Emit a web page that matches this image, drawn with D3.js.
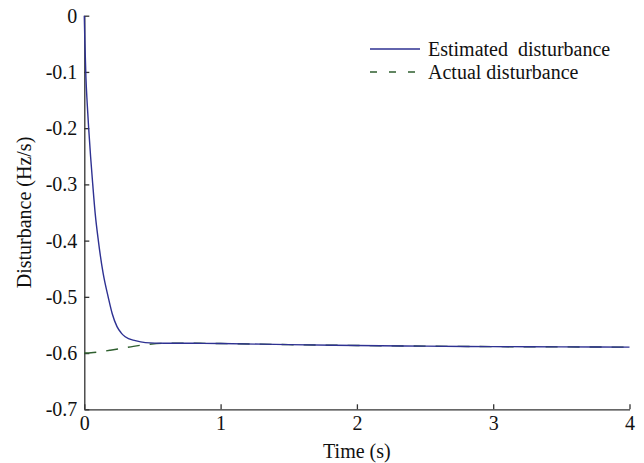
<!DOCTYPE html>
<html>
<head>
<meta charset="utf-8">
<script src="https://cdn.jsdelivr.net/npm/d3@7/dist/d3.min.js"></script>
<style>
  html, body { margin: 0; padding: 0; background: #fff; }
  svg { display: block; }
</style>
</head>
<body>
<svg id="chart" width="644" height="463"></svg>
<script>
// ---- data ----
const estTime = [0, 0.004, 0.012, 0.021, 0.032, 0.046, 0.062, 0.080, 0.103, 0.138, 0.175, 0.205, 0.240, 0.270, 0.300, 0.374, 0.448, 0.59, 0.8, 1.0, 1.5, 2.0, 2.5, 3.0, 3.5, 4.0];
const estValue = [0, -0.045, -0.110, -0.155, -0.200, -0.250, -0.300, -0.352, -0.400, -0.458, -0.500, -0.530, -0.553, -0.564, -0.571, -0.578, -0.5815, -0.5825, -0.5826, -0.583, -0.585, -0.5865, -0.5877, -0.5885, -0.589, -0.5895];
const actTime = [0, 0.05, 0.106, 0.19, 0.277, 0.36, 0.436, 0.57, 0.8, 1.0, 1.5, 2.0, 2.5, 3.0, 3.5, 4.0];
const actValue = [-0.600, -0.5995, -0.598, -0.595, -0.5914, -0.588, -0.5855, -0.5827, -0.5826, -0.583, -0.585, -0.5865, -0.5877, -0.5885, -0.589, -0.5895];
const xTicks = [0, 1, 2, 3, 4];
const yTicks = [0, -0.1, -0.2, -0.3, -0.4, -0.5, -0.6, -0.7];
const seriesNames = ["Estimated  disturbance", "Actual disturbance"];
const xLabel = "Time (s)";
const yLabel = "Disturbance (Hz/s)";

// ---- layout ----
const FONT = '"Liberation Serif", "Times New Roman", serif';
const svg = d3.select("#chart");
const x = d3.scaleLinear().domain([0, 4]).range([84.3, 629.5]);
const y = d3.scaleLinear().domain([-0.7, 0]).range([409.3, 15.7]);
const axisColor = "#333";
const blue = "#2e3192";
const green = "#2f5f2f";

// axes
const gx = svg.append("g").attr("transform", `translate(0,${y(-0.7)})`)
  .call(d3.axisBottom(x).tickValues(xTicks).tickFormat(d3.format("d"))
        .tickSizeInner(-5).tickSizeOuter(0).tickPadding(7));
const gy = svg.append("g").attr("transform", `translate(${x(0)},0)`)
  .call(d3.axisLeft(y).tickValues(yTicks).tickFormat(d => d === 0 ? "0" : d.toFixed(1))
        .tickSizeInner(-5).tickSizeOuter(0).tickPadding(7));
[gx, gy].forEach(g => {
  g.attr("font-family", null).attr("font-size", null);
  g.select(".domain").attr("stroke", axisColor).attr("stroke-width", 1.3);
  g.selectAll(".tick line").attr("stroke", axisColor).attr("stroke-width", 1.3);
  g.selectAll(".tick text").style("font-size", "20px")
    .style("font-family", FONT).style("fill", "#111");
});

// axis labels
svg.append("text").attr("x", x(2)).attr("y", 458).attr("text-anchor", "middle")
  .style("font-size", "20px").style("font-family", FONT).style("fill", "#111").text(xLabel);
svg.append("text").attr("transform", `translate(31,${(y(0) + y(-0.7)) / 2}) rotate(-90)`)
  .attr("text-anchor", "middle").style("font-size", "20px").style("font-family", FONT)
  .style("fill", "#111").text(yLabel);

// lines
const line = d3.line().curve(d3.curveMonotoneX);
const estPts = estTime.map((t, i) => [x(t), y(estValue[i])]);
const actPts = actTime.map((t, i) => [x(t), y(actValue[i])]);
svg.append("path").attr("d", line(actPts)).attr("fill", "none")
  .attr("stroke", green).attr("stroke-width", 1.4).attr("stroke-dasharray", "12,10");
svg.append("path").attr("d", line(estPts)).attr("fill", "none")
  .attr("stroke", blue).attr("stroke-width", 1.4);

// legend
const lg = svg.append("g");
const legendY = [49, 72];
lg.append("line").attr("x1", 370).attr("x2", 420).attr("y1", legendY[0]).attr("y2", legendY[0])
  .attr("stroke", blue).attr("stroke-width", 1.4);
lg.append("line").attr("x1", 370).attr("x2", 420).attr("y1", legendY[1]).attr("y2", legendY[1])
  .attr("stroke", green).attr("stroke-width", 1.4).attr("stroke-dasharray", "7,12");
seriesNames.forEach((n, i) => {
  lg.append("text").attr("x", 428).attr("y", legendY[i] + 7)
    .style("font-size", "20px").style("font-family", FONT).style("fill", "#111")
    .style("white-space", "pre").text(n);
});
</script>
</body>
</html>
